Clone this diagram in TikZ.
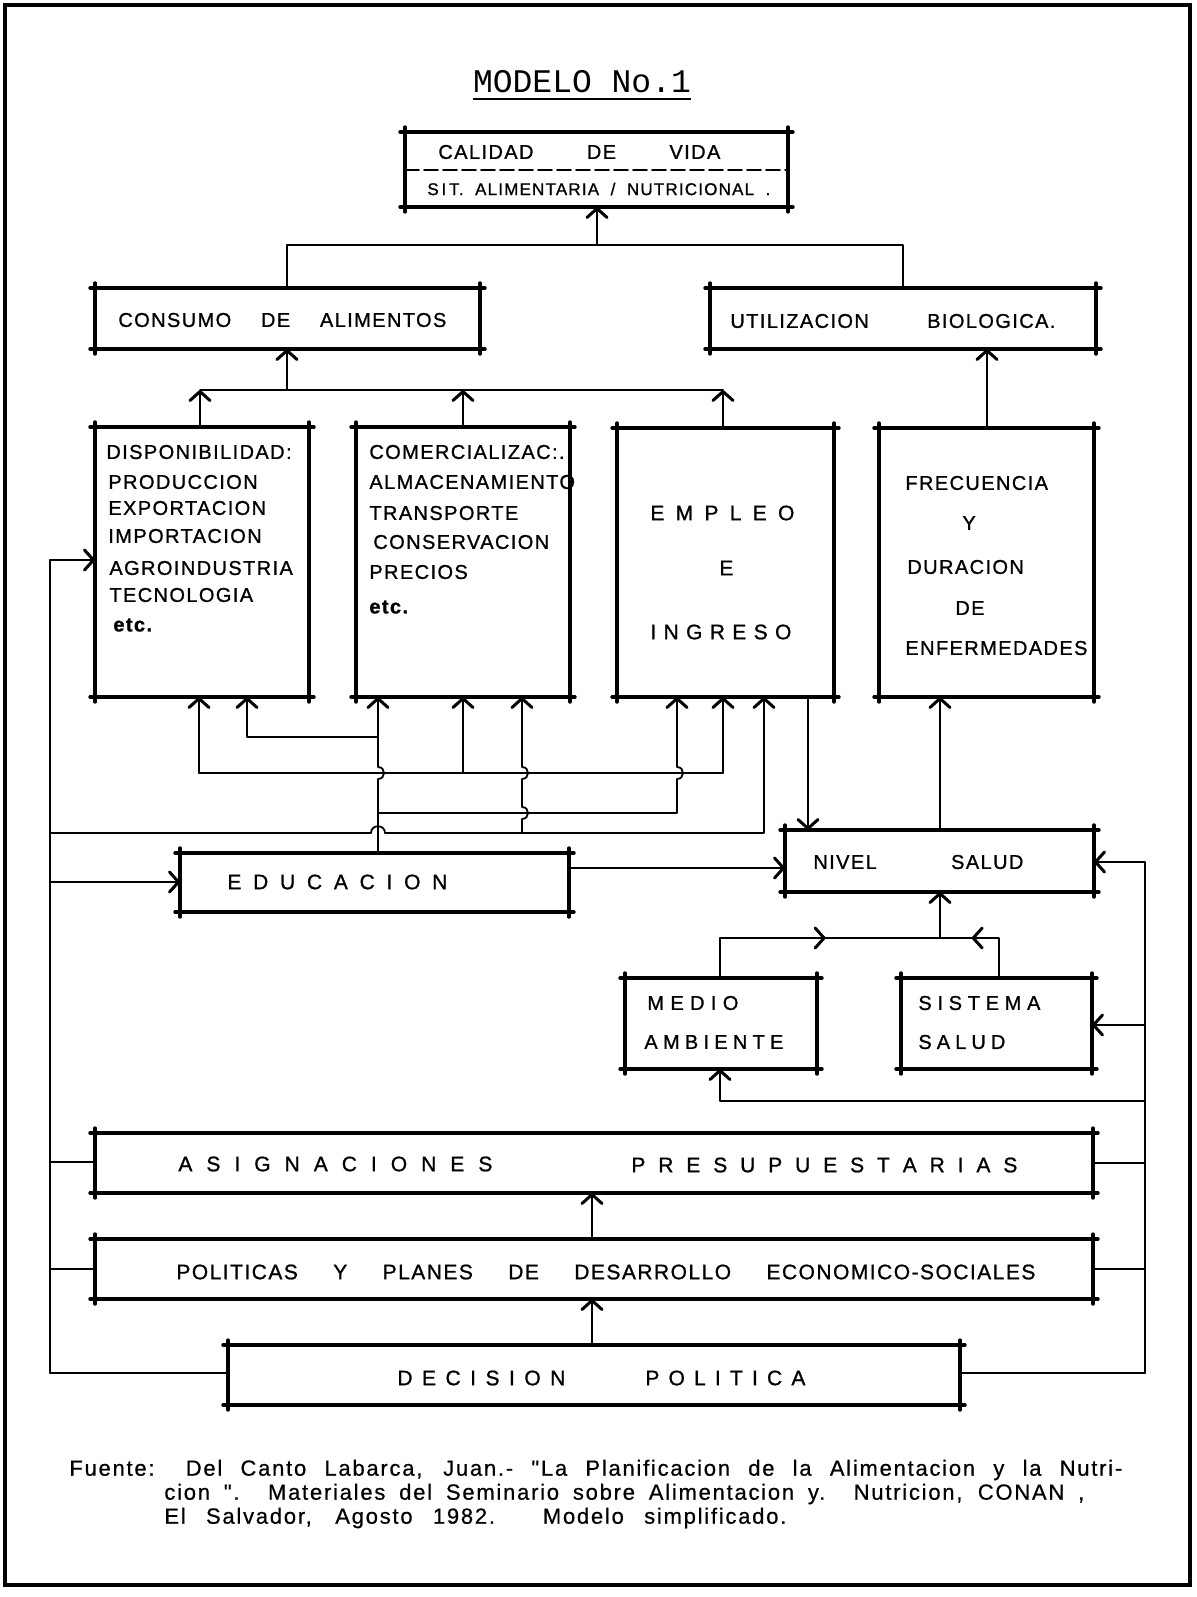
\documentclass[tikz,border=0pt]{standalone}
\usepackage{fontspec}
\setmainfont{Liberation Sans}
\newfontfamily\lsfont{Liberation Sans}[LetterSpace=7,FakeBold=1]
\newfontfamily\fuentefont{Liberation Sans}[LetterSpace=8,FakeBold=0.6]
\newfontfamily\typew{Liberation Mono}
\usetikzlibrary{arrows.meta,fit,decorations.markings}
\newcommand\spr[2]{\makebox[#1][s]{#2}}
\newcommand\setfs[1]{\fontsize{#1}{#1}\selectfont}
\begin{document}
\begin{tikzpicture}[x=0.5pt,y=-0.5pt,
  ln/.style={line width=0.9pt,line cap=round,line join=round},
  bx/.style={inner sep=0pt,outer sep=0pt},
  boxedge/.style={line width=1.7pt,line cap=round},
  hb/.tip={Straight Barb[length=4.5pt,width=10pt,line width=1.5pt,round]},
  arr/.style={ln,-{hb}},
  midtip/.style={postaction={decorate,decoration={markings,mark=at position #1 with {\arrow{hb}}}}},
  txt/.style={inner sep=0pt,anchor=west,font=\lsfont\setfs{10pt}},
  big/.style={font=\lsfont\setfs{10.5pt}},
  boldtxt/.style={font=\lsfont\bfseries\setfs{10pt}},
  src/.style={inner sep=0pt,anchor=west,font=\fuentefont\setfs{11pt}}]
\useasboundingbox (0,0) rectangle (1197,1597);
\fill[white] (0,0) rectangle (1197,1597);
\draw[line width=2.4pt] (5,5) rectangle (1190,1585);

\foreach \v in {50,199,200,247,287,378,463,522,592,597,677,720,723,764,808,903,940,987,999,1145}{\coordinate (X\v) at (\v,0);}
\foreach \v in {99,170,245,390,560,737,773,813,833,862,868,882,938,1025,1101,1162,1163,1269,1373}{\coordinate (Y\v) at (0,\v);}

% boxes
\node[bx,fit={(405,132)(788,207)}] (cal) {};
\node[bx,fit={(95,288)(480,349)}] (cons) {};
\node[bx,fit={(710,288)(1096,349)}] (util) {};
\node[bx,fit={(95,427)(309,697)}] (disp) {};
\node[bx,fit={(356,427)(570,697)}] (com) {};
\node[bx,fit={(617,428)(834,697)}] (emp) {};
\node[bx,fit={(879,428)(1094,697)}] (frec) {};
\node[bx,fit={(180,853)(569,912)}] (educ) {};
\node[bx,fit={(785,830)(1094,892)}] (nivel) {};
\node[bx,fit={(625,978)(817,1069)}] (medio) {};
\node[bx,fit={(901,978)(1092,1069)}] (sist) {};
\node[bx,fit={(95,1133)(1093,1193)}] (asig) {};
\node[bx,fit={(95,1239)(1093,1299)}] (pol) {};
\node[bx,fit={(228,1345)(960,1405)}] (dec) {};

\foreach \n in {cal,cons,util,disp,com,emp,frec,educ,nivel,medio,sist,asig,pol,dec}{
  \draw[boxedge] ([xshift=-2.5pt]\n.north west) -- ([xshift=2.5pt]\n.north east);
  \draw[boxedge] ([xshift=-2.5pt]\n.south west) -- ([xshift=2.5pt]\n.south east);
  \draw[boxedge] ([yshift=2.5pt]\n.north west) -- ([yshift=-2.5pt]\n.south west);
  \draw[boxedge] ([yshift=2.5pt]\n.north east) -- ([yshift=-2.5pt]\n.south east);
}
\draw[ln,dash pattern=on 7pt off 2.5pt] (cal.west |- Y170) -- (cal.east |- Y170);

% title
\node[inner sep=0pt,font=\typew\setfs{16.5pt}] (title) at (582,82) {MODELO No.1};
\draw[line width=1.1pt] (title.south west |- Y99) -- (title.south east |- Y99);

% texts
\node[txt] (tcal) at (438,152) {\spr{141pt}{CALIDAD DE VIDA}};
\node[txt,font=\lsfont\setfs{8.5pt}] (tsit) at (427,189) {\spr{171.5pt}{S\,I\,T.\ ALIMENTARIA / NUTRICIONAL .}};
\node[txt] (tcons) at (118,320) {\spr{164pt}{CONSUMO DE ALIMENTOS}};
\node[txt] (tutil) at (730,321) {\spr{162.5pt}{UTILIZACION BIOLOGICA.}};

\node[txt] (d1) at (106,452) {DISPONIBILIDAD:};
\node[txt] (d2) at (108,482) {PRODUCCION};
\node[txt] (d3) at (108,508) {EXPORTACION};
\node[txt] (d4) at (108,536) {IMPORTACION};
\node[txt] (d5) at (109,568) {AGROINDUSTRIA};
\node[txt] (d6) at (109,595) {TECNOLOGIA};
\node[txt,boldtxt] (d7) at (113,625) {etc.};

\node[txt] (c1) at (369,452) {COMERCIALIZAC:.};
\node[txt] (c2) at (369,482) {ALMACENAMIENTO};
\node[txt] (c3) at (369,513) {TRANSPORTE};
\node[txt] (c4) at (373,542) {CONSERVACION};
\node[txt] (c5) at (369,572) {PRECIOS};
\node[txt,boldtxt] (c6) at (369,607) {etc.};

\node[txt,big] (e1) at (650,513) {\spr{72pt}{E M P L E O}};
\node[txt,big] (e2) at (719,568) {E};
\node[txt,big] (e3) at (650,632) {\spr{70.5pt}{I N G R E S O}};

\node[txt] (f1) at (905,483) {FRECUENCIA};
\node[txt] (f2) at (962,523) {Y};
\node[txt] (f3) at (907,567) {DURACION};
\node[txt] (f4) at (955,608) {DE};
\node[txt] (f5) at (905,648) {ENFERMEDADES};

\node[txt,big] (ted) at (227,882) {\spr{110pt}{E D U C A C I O N}};
\node[txt] (tniv) at (813,862) {\spr{105pt}{NIVEL SALUD}};
\node[txt] (m1) at (647,1003) {\makebox[45.5pt]{M\hfill E\hfill D\hfill I\hfill O}};
\node[txt] (m2) at (644,1042) {\makebox[69.5pt]{A\hfill M\hfill B\hfill I\hfill E\hfill N\hfill T\hfill E}};
\node[txt] (s1) at (918,1003) {\makebox[61pt]{S\hfill I\hfill S\hfill T\hfill E\hfill M\hfill A}};
\node[txt] (s2) at (918,1042) {\makebox[43.5pt]{S\hfill A\hfill L\hfill U\hfill D}};

\node[txt,big] (ta1) at (178,1164) {\spr{157pt}{A S I G N A C I O N E S}};
\node[txt,big] (ta2) at (631,1165) {\spr{193pt}{P R E S U P U E S T A R I A S}};
\node[txt,big] (tp) at (176,1272) {\spr{429.5pt}{POLITICAS Y PLANES DE DESARROLLO ECONOMICO-SOCIALES}};
\node[txt,big] (td1) at (397,1378) {\spr{84pt}{D E C I S I O N}};
\node[txt,big] (td2) at (645,1378) {\spr{80pt}{P O L I T I C A}};

\node[src] (fu1) at (69,1470) {\spr{526.5pt}{Fuente: Del Canto Labarca, Juan.- "La Planificacion de la Alimentacion y la Nutri-}};
\node[src] (fu2) at (164,1494) {\spr{460pt}{cion ". Materiales del Seminario sobre Alimentacion y. Nutricion, CONAN ,}};
\node[src] (fu3) at (164,1518) {\spr{311pt}{El Salvador, Agosto 1982. Modelo simplificado.}};

% top connectors
\draw[ln] (cons.north -| X287) -- (X287 |- Y245) -- (X903 |- Y245) -- (util.north -| X903);
\draw[arr] (X597 |- Y245) -- (cal.south -| X597);
\draw[ln] (X200 |- Y390) -- (X723 |- Y390);
\draw[arr] (disp.north -| X200) -- (X200 |- Y390);
\draw[arr] (com.north -| X463) -- (X463 |- Y390);
\draw[arr] (emp.north -| X723) -- (X723 |- Y390);
\draw[arr] (X287 |- Y390) -- (cons.south -| X287);
\draw[arr] (frec.north -| X987) -- (util.south -| X987);

% middle network
\draw[arr] (educ.north -| X378) -- (378,779) .. controls (386,779) and (386,767) .. (378,767) -- (com.south -| X378);
\draw[arr] (X378 |- Y737) -| (disp.south -| X247);
\draw[arr] (X378 |- Y813) -- (677,813) -- (677,779) .. controls (685,779) and (685,767) .. (677,767) -- (emp.south -| X677);
\draw[ln] (X199 |- Y773) -- (X723 |- Y773);
\draw[arr] (X199 |- Y773) -- (disp.south -| X199);
\draw[arr] (X463 |- Y773) -- (com.south -| X463);
\draw[arr] (X723 |- Y773) -- (emp.south -| X723);
\draw[arr] (X50 |- Y833) -- (371,833) .. controls (371,824) and (385,824) .. (385,833) -- (764,833) -- (emp.south -| X764);
\draw[arr] (X522 |- Y833) -- (522,819) .. controls (530,819) and (530,807) .. (522,807) -- (522,779) .. controls (530,779) and (530,767) .. (522,767) -- (com.south -| X522);

% left bus
\draw[ln] (X50 |- Y560) -- (X50 |- Y1373);
\draw[arr] (X50 |- Y560) -- (disp.west |- Y560);
\draw[arr] (X50 |- Y882) -- (educ.west |- Y882);
\draw[ln] (X50 |- Y1162) -- (asig.west |- Y1162);
\draw[ln] (X50 |- Y1269) -- (pol.west |- Y1269);
\draw[ln] (X50 |- Y1373) -- (dec.west |- Y1373);

% right bus
\draw[ln] (X1145 |- Y862) -- (X1145 |- Y1373);
\draw[arr] (X1145 |- Y862) -- (nivel.east |- Y862);
\draw[arr] (X1145 |- Y1025) -- (sist.east |- Y1025);
\draw[arr] (X1145 |- Y1101) -| (medio.south -| X720);
\draw[ln] (asig.east |- Y1163) -- (X1145 |- Y1163);
\draw[ln] (pol.east |- Y1269) -- (X1145 |- Y1269);
\draw[ln] (dec.east |- Y1373) -- (X1145 |- Y1373);

% health block
\draw[arr] (educ.east |- Y868) -- (nivel.west |- Y868);
\draw[arr] (emp.south -| X808) -- (nivel.north -| X808);
\draw[arr] (nivel.north -| X940) -- (frec.south -| X940);
\draw[ln,midtip=0.56] (medio.north -| X720) |- (X940 |- Y938);
\draw[ln,midtip=0.68] (sist.north -| X999) |- (X940 |- Y938);
\draw[arr] (X940 |- Y938) -- (nivel.south -| X940);

% policy chain
\draw[arr] (pol.north -| X592) -- (asig.south -| X592);
\draw[arr] (dec.north -| X592) -- (pol.south -| X592);
\end{tikzpicture}
\end{document}
